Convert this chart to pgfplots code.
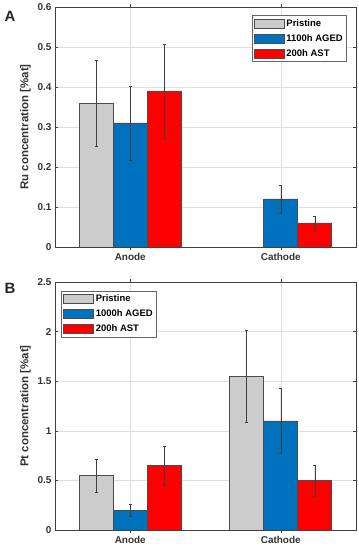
\documentclass[border=0pt]{standalone}
\usepackage{fontspec}
\setmainfont{Liberation Sans}
\usepackage{pgfplots}
\pgfplotsset{compat=1.18}
\definecolor{mgray}{rgb}{0.8,0.8,0.8}
\definecolor{mblue}{rgb}{0,0.447,0.741}
\definecolor{mred}{rgb}{1,0,0}
\definecolor{edge}{rgb}{0.3,0.3,0.3}
\pgfplotsset{
  common/.style={
    scale only axis, width=301bp,
    xmin=0.5, xmax=2.5, ymin=0,
    xtick={1,2}, xticklabels={Anode,Cathode},
    tick align=inside, major tick length=3bp,
    axis line style={color=black!75, line width=0.5pt},
    tick style={color=black!75},
    grid=major, major grid style={color=black!12, line width=0.4pt},
    /pgf/number format/assume math mode=true,
    ticklabel style={font=\bfseries\fontsize{10}{12}\selectfont, color=black!80},
    ylabel style={font=\bfseries\fontsize{11.5}{13}\selectfont, color=black!80},
    ybar, bar width=0.226,
    legend cell align=left,
    legend style={font=\bfseries\fontsize{9.5}{11}\selectfont, draw=black!60, line width=0.5pt,
      row sep=2.5bp, inner sep=2bp},
    legend image code/.code={\draw[#1, draw=edge, line width=0.6pt] (0bp,-4.5bp) rectangle (30bp,4.5bp);},
    error bars/y dir=both, error bars/y explicit,
    error bars/error bar style={color=black!75, line width=0.5pt},
    error bars/error mark options={rotate=90, mark size=1.5bp, color=black!75, line width=0.5pt},
  },
}
\begin{document}
\begin{tikzpicture}
\path[use as bounding box] (0bp,0bp) rectangle (359bp,550bp);
\begin{axis}[common, at={(55bp,303bp)}, anchor=south west, height=240bp,
  ymax=0.6, ytick={0,0.1,...,0.6},
  yticklabel style={/pgf/number format/fixed, /pgf/number format/precision=1},
  ylabel={Ru concentration [\%at]},
  legend style={at={(rel axis cs:0.97,0.965)}, anchor=north east}]
\addplot[fill=mgray, draw=edge, line width=0.6pt, bar shift=-0.226] coordinates {(1,0.36) +- (0,0.108)};
\addplot[fill=mblue, draw=edge, line width=0.6pt, bar shift=0] coordinates {(1,0.31) +- (0,0.093) (2,0.12) +- (0,0.035)};
\addplot[fill=mred, draw=edge, line width=0.6pt, bar shift=0.226] coordinates {(1,0.39) +- (0,0.117) (2,0.06) +- (0,0.018)};
\legend{Pristine,1100h AGED,200h AST}
\end{axis}
\begin{axis}[common, at={(55bp,20bp)}, anchor=south west, height=248bp,
  ymax=2.5, ytick={0,0.5,...,2.5},
  ylabel={Pt concentration [\%at]},
  legend style={at={(rel axis cs:0.02,0.965)}, anchor=north west}]
\addplot[fill=mgray, draw=edge, line width=0.6pt, bar shift=-0.226] coordinates {(1,0.55) +- (0,0.165) (2,1.55) +- (0,0.466)};
\addplot[fill=mblue, draw=edge, line width=0.6pt, bar shift=0] coordinates {(1,0.2) +- (0,0.064) (2,1.1) +- (0,0.33)};
\addplot[fill=mred, draw=edge, line width=0.6pt, bar shift=0.226] coordinates {(1,0.65) +- (0,0.196) (2,0.5) +- (0,0.155)};
\legend{Pristine,1000h AGED,200h AST}
\end{axis}
\node[font=\bfseries\fontsize{15}{17}\selectfont, color=black!85] at (10bp,534bp) {A};
\node[font=\bfseries\fontsize{15}{17}\selectfont, color=black!85] at (10bp,262bp) {B};
\end{tikzpicture}
\end{document}
